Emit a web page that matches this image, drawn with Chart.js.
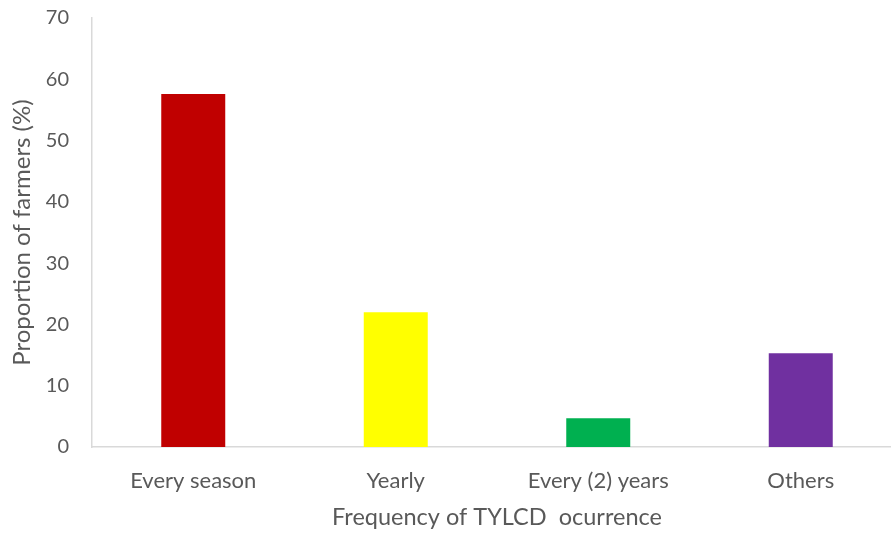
<!DOCTYPE html>
<html>
<head>
<meta charset="utf-8">
<title>TYLCD occurrence</title>
<script src="https://cdn.jsdelivr.net/npm/chart.js@4/dist/chart.umd.min.js"></script>
<style>
  html, body { margin: 0; padding: 0; background: #fff; overflow: hidden; }
  #wrap { width: 902px; height: 533px; }
</style>
</head>
<body>
<div id="wrap"><canvas id="chart-freq" width="902" height="533"></canvas></div>
<script>
// ── Data ─────────────────────────────────────────────────
const categories = ["Every season", "Yearly", "Every (2) years", "Others"];
const farmerShare = [57.6, 22.0, 4.7, 15.3];
const barColors = ["#C00000", "#FFFF00", "#00B050", "#7030A0"];
const yTicks = [0, 10, 20, 30, 40, 50, 60, 70];

// ── Theme ────────────────────────────────────────────────
Chart.defaults.color = "#595959";
Chart.defaults.font.family = "Lato, 'Open Sans', sans-serif";
Chart.defaults.font.size = 20;

const AXIS_GREY = "#d9d9d9";

new Chart(document.getElementById("chart-freq"), {
  type: "bar",
  data: {
    labels: categories,
    datasets: [{
      data: farmerShare,
      backgroundColor: barColors,
      borderWidth: 0,
      categoryPercentage: 1,
      barPercentage: 0.316
    }]
  },
  options: {
    responsive: false,
    animation: false,
    layout: { padding: { top: 18, right: 0, bottom: 0, left: 0 } },
    plugins: {
      legend: { display: false },
      tooltip: { enabled: false }
    },
    scales: {
      x: {
        grid: { display: false },
        border: { display: true, color: AXIS_GREY, width: 1.5 },
        ticks: { padding: 13, font: { size: 22 } },
        title: {
          display: true,
          text: "Frequency of TYLCD  ocurrence",
          font: { size: 23.5 },
          padding: { top: 0, bottom: 1 }
        },
        afterFit: s => {
          s.height = 86;
          s.paddingLeft = 0;
          s.paddingRight = 0;
        }
      },
      y: {
        min: 0,
        max: 70,
        afterBuildTicks: s => { s.ticks = yTicks.map(v => ({ value: v })); },
        grid: { display: false, drawTicks: false },
        border: { display: true, color: AXIS_GREY, width: 1.5 },
        ticks: { padding: 23, font: { size: 20 } },
        title: {
          display: true,
          text: "Proportion of farmers (%)",
          font: { size: 24 },
          padding: { top: 8, bottom: 0 }
        },
        afterFit: s => {
          s.width = 92;
          s.paddingTop = 0;
          s.paddingBottom = 0;
        }
      }
    }
  }
});
</script>
</body>
</html>
